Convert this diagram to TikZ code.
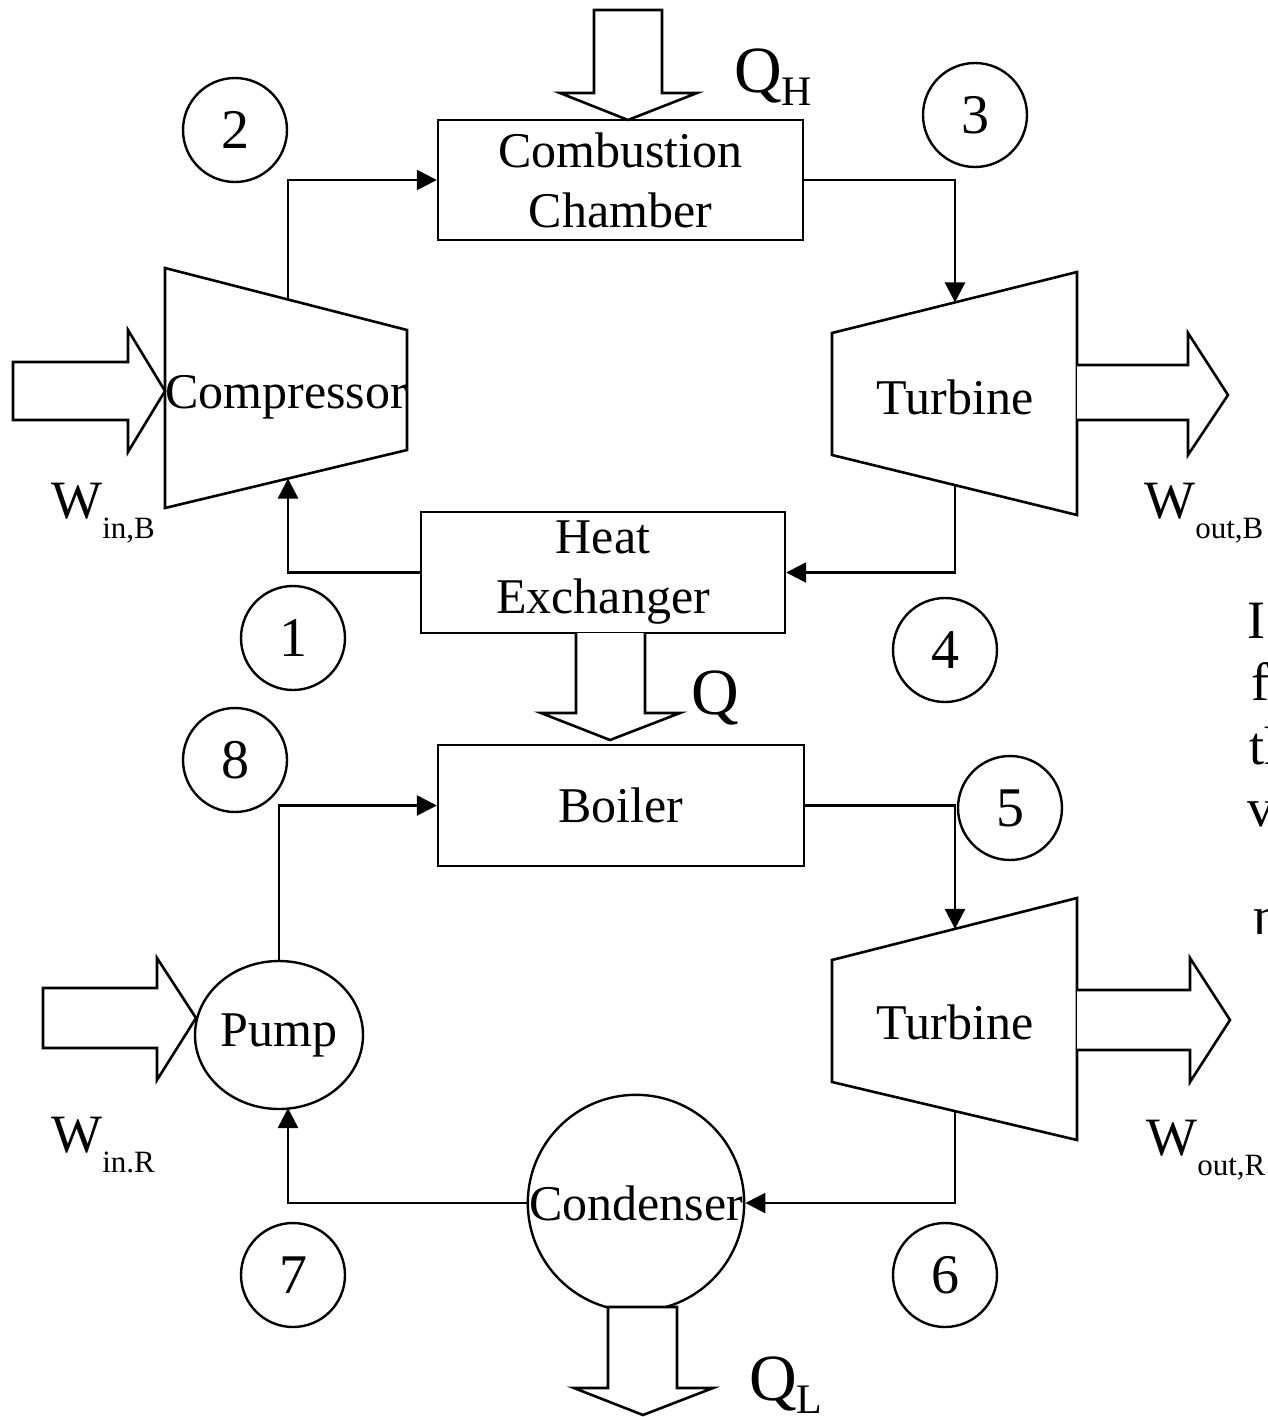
\documentclass[tikz,border=0pt]{standalone}
\usepackage{fontspec}
\setmainfont{Liberation Serif}
\usetikzlibrary{arrows.meta,calc,shapes.geometric}
\newcommand{\wlab}[2]{{\fontsize{54}{54}\selectfont #1}\raisebox{-20pt}{\fontsize{31}{31}\selectfont #2}}
\newcommand{\qlab}[2]{{\fontsize{66}{66}\selectfont #1}\raisebox{-13pt}{\fontsize{42}{42}\selectfont #2}}
\begin{document}
\begin{tikzpicture}[x=1pt,y=-1pt,line width=2.6pt,line join=miter,
  txt/.style={font=\fontsize{50}{60}\selectfont,inner sep=0pt,align=center},
  boxnode/.style={draw,line width=2.4pt,minimum width=365pt,minimum height=120pt,align=center,font=\fontsize{50}{60}\selectfont,inner sep=0pt},
  num/.style={draw,circle,minimum size=104pt,inner sep=0pt,line width=2.4pt,font=\fontsize{56}{56}\selectfont},
  flow/.style={line width=2.6pt,-{Triangle[length=20pt,width=20pt]}},
  bigarrow/.style={draw,line width=2.6pt,fill=white},
  unit/.style={draw,line width=2.6pt},
  lbl/.style={inner sep=0pt,anchor=base west}]
\useasboundingbox (0,0) rectangle (1268,1417);

% --- Brayton (top) cycle ---
\node[boxnode] (cc) at (620.5,180) {Combustion\\Chamber};
\node[boxnode,minimum width=364pt,minimum height=121pt] (hx) at (603,572.5) {Heat\\Exchanger};

\draw[unit] (165,268) -- (407,330) -- (407,450) -- (165,508) -- cycle;
\node[txt] (comp) at (286,397) {Compressor};
\draw[unit] (832,333) -- (1077,272) -- (1077,515) -- (832,455) -- cycle;
\node[txt] (turb1) at (955,397) {Turbine};

\coordinate (c2) at (288,299.5);
\coordinate (c1) at (288,478.5);
\coordinate (t3) at (955,302.4);
\coordinate (t4) at (955,485);

\draw[flow] (c2) |- (cc.west);
\draw[flow] (cc.east) -| (t3);
\draw[flow] (t4) |- (hx.east);
\draw[flow] (hx.west) -| (c1);

% --- Rankine (bottom) cycle ---
\node[boxnode,minimum width=366pt,minimum height=121pt] (boiler) at (621,805.5) {Boiler};
\node[draw,ellipse,line width=2.4pt,minimum width=168pt,minimum height=148pt,inner sep=0pt,font=\fontsize{50}{60}\selectfont] (pump) at (279,1035) {Pump};
\draw[unit] (832,960) -- (1077,898) -- (1077,1140) -- (832,1082) -- cycle;
\node[txt] (turb2) at (955,1022) {Turbine};
\node[draw,circle,line width=2.4pt,minimum size=212pt,inner sep=0pt,font=\fontsize{50}{60}\selectfont] (cond) at (636,1203) {Condenser};

\coordinate (t5) at (955,928.9);
\coordinate (t6) at (955,1111);
\coordinate (p7) at (288,1108);

\draw[flow] (pump.north) |- (boiler.west);
\draw[flow] (boiler.east) -| (t5);
\draw[flow] (t6) |- (cond.east);
\draw[flow] (cond.west) -| (p7);

% --- hollow energy arrows ---
\draw[bigarrow] (594,10) -- (662,10) -- (662,93) -- (697,93) -- (628,120) -- (560,93) -- (594,93) -- cycle;
\draw[bigarrow] (576,633) -- (576,713) -- (541,713) -- (610,740) -- (680,713) -- (645,713) -- (645,633);
\draw[bigarrow] (608,1307) -- (608,1388) -- (574,1388) -- (643,1415) -- (713,1388) -- (677,1388) -- (677,1307) -- cycle;
\draw[bigarrow] (13,362) -- (128,362) -- (128,330) -- (165,391) -- (128,452) -- (128,420) -- (13,420) -- cycle;
\draw[bigarrow] (1077,365) -- (1188,365) -- (1188,333) -- (1228,395) -- (1188,455) -- (1188,420) -- (1077,420);
\draw[bigarrow] (43,988) -- (157,988) -- (157,958) -- (196,1018) -- (157,1080) -- (157,1048) -- (43,1048) -- cycle;
\draw[bigarrow] (1077,990) -- (1190,990) -- (1190,958) -- (1230,1020) -- (1190,1082) -- (1190,1050) -- (1077,1050);

% --- state numbers ---
\node[num] (n2) at (235,130) {2};
\node[num] (n3) at (975,115) {3};
\node[num] (n1) at (293,638) {1};
\node[num] (n4) at (945,650) {4};
\node[num] (n8) at (235,760) {8};
\node[num,fill=white] (n5) at (1010,808) {5};
\node[num] (n7) at (293,1275) {7};
\node[num] (n6) at (945,1275) {6};

% --- labels ---
\node[lbl] (qh) at (733,92) {\qlab{Q}{H}};
\node[lbl] (q) at (690,714) {\fontsize{66}{66}\selectfont Q};
\node[lbl] (ql) at (748,1400) {\qlab{Q}{L}};
\node[lbl] (winb) at (50,518) {\wlab{W}{in,B}};
\node[lbl] (woutb) at (1143,518) {\wlab{W}{out,B}};
\node[lbl] (winr) at (50,1152) {\wlab{W}{in.R}};
\node[lbl] (woutr) at (1145,1155) {\wlab{W}{out,R}};

% --- text cut off at the right edge ---
\node[lbl,font=\fontsize{54}{54}\selectfont] (r1) at (1246,638) {I};
\node[lbl,font=\fontsize{54}{54}\selectfont] (r2) at (1250,700) {f};
\node[lbl,font=\fontsize{54}{54}\selectfont] (r3) at (1248,764) {th};
\node[lbl,font=\fontsize{54}{54}\selectfont] (r4) at (1246,826) {v};
\node[lbl,font=\fontsize{54}{54}\selectfont] (r5) at (1252,934) {η};
\end{tikzpicture}
\end{document}
